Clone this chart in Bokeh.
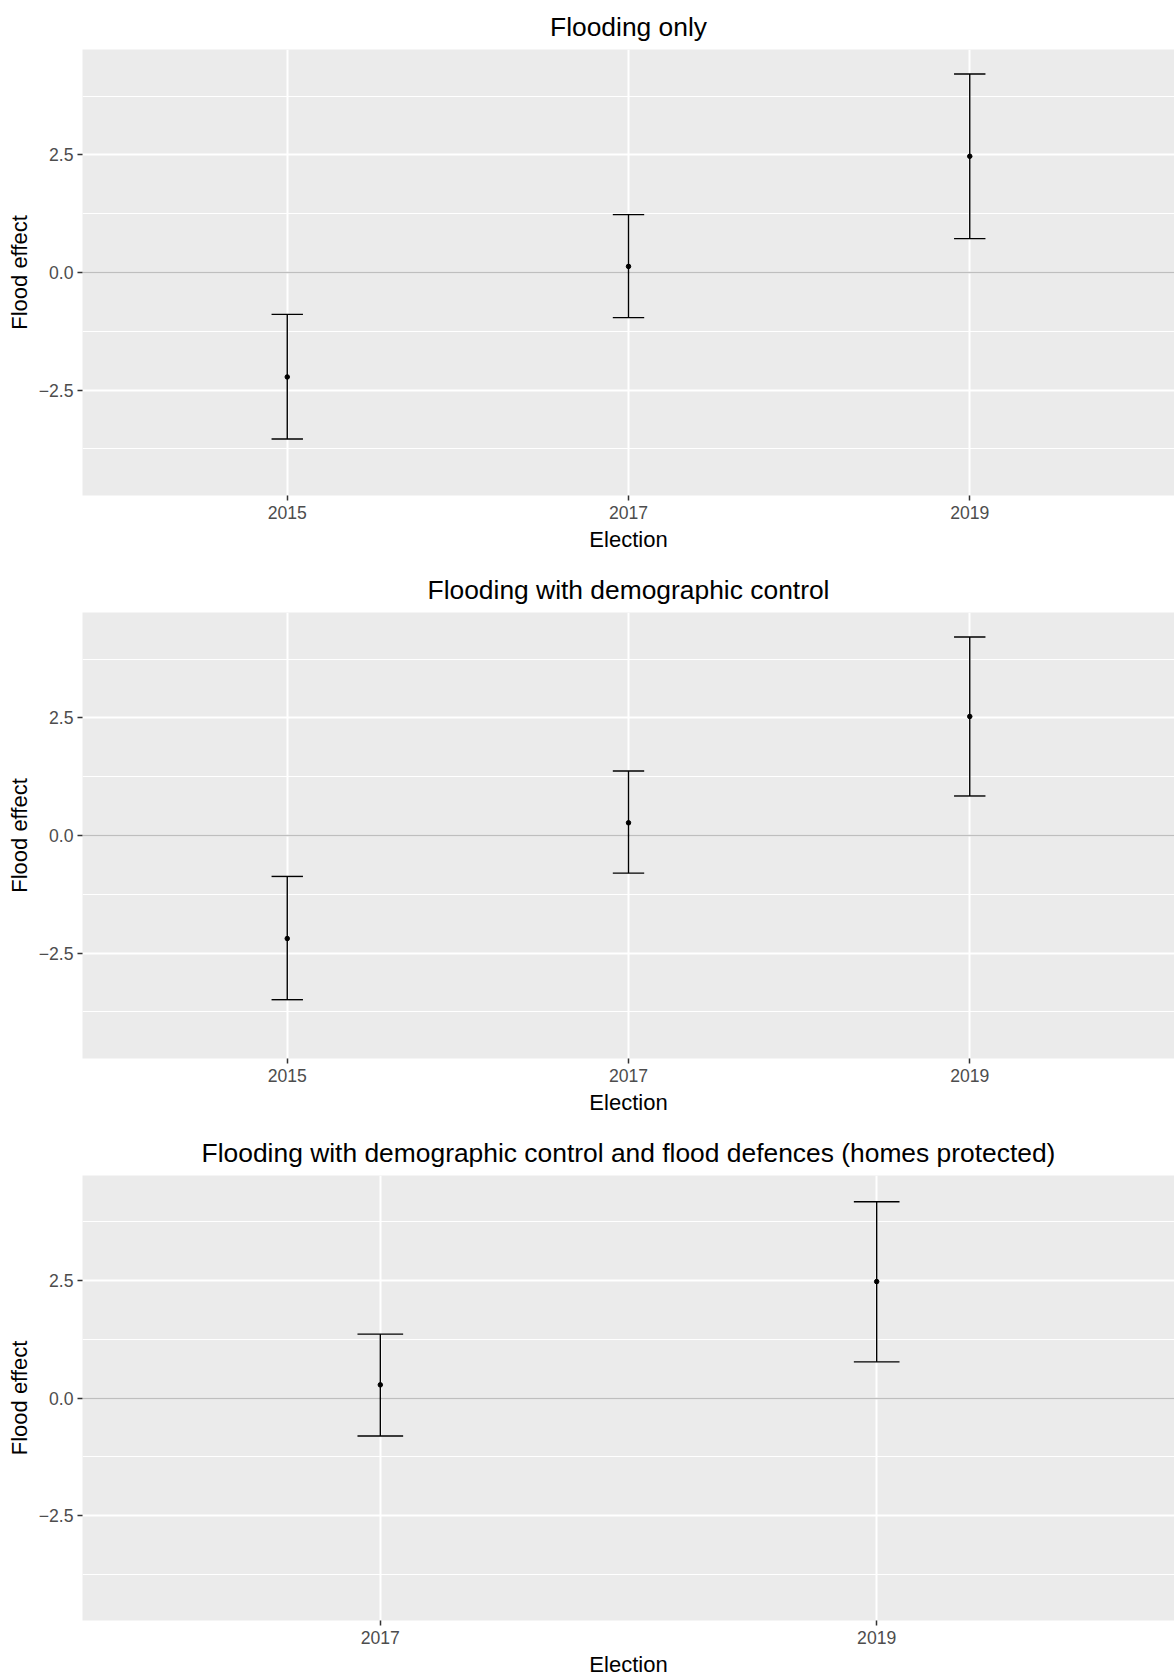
from bokeh.plotting import figure
from bokeh.layouts import column
from bokeh.models import FixedTicker, CustomJSTickFormatter, Range1d, ColumnDataSource
from bokeh.transform import dodge
from bokeh.embed import file_html
from bokeh.resources import INLINE

# ---------------- data ----------------
titles = [
    "Flooding only",
    "Flooding with demographic control",
    "Flooding with demographic control and flood defences (homes protected)",
]

years_1 = ["2015", "2017", "2019"]
est_1 = [-2.22, 0.13, 2.47]
lo_1 = [-3.54, -0.96, 0.72]
hi_1 = [-0.89, 1.23, 4.22]

years_2 = ["2015", "2017", "2019"]
est_2 = [-2.19, 0.27, 2.53]
lo_2 = [-3.49, -0.80, 0.84]
hi_2 = [-0.87, 1.37, 4.22]

years_3 = ["2017", "2019"]
est_3 = [0.28, 2.48]
lo_3 = [-0.81, 0.77]
hi_3 = [1.36, 4.18]

y_ticks = [-2.5, 0.0, 2.5]
y_minor = [-3.75, -1.25, 1.25, 3.75]
y_limits = (-4.74, 4.74)

FONT = "Liberation Sans"


def make_panel(title, years, est, lo, hi, height, bottom):
    n = len(years)
    xs = list(range(1, n + 1))
    p = figure(
        width=1174, height=height,
        x_range=Range1d(0.4, n + 0.6), y_range=Range1d(*y_limits),
        output_backend="svg", toolbar_location=None,
        min_border_left=82, min_border_right=0, min_border_top=49,
        min_border_bottom=bottom,
        background_fill_color="#EBEBEB", border_fill_color="white",
        outline_line_color=None, title=title,
    )
    p.title.text_font = FONT
    p.title.text_font_size = "26.4px"
    p.title.text_font_style = "normal"
    p.title.text_color = "black"
    p.title.align = "center"
    p.title.standoff = 16

    p.xaxis.ticker = FixedTicker(ticks=xs)
    p.xaxis.formatter = CustomJSTickFormatter(
        args=dict(labels=years), code="return labels[Math.round(tick) - 1] || '';")
    p.yaxis.ticker = FixedTicker(ticks=y_ticks, minor_ticks=y_minor)
    p.yaxis.formatter = CustomJSTickFormatter(
        code="return (tick < 0 ? '\u2212' : '') + Math.abs(tick).toFixed(1);")

    for ax in (p.xaxis, p.yaxis):
        ax.axis_line_color = None
        ax.major_tick_out = 5
        ax.major_tick_in = 0
        ax.minor_tick_out = 0
        ax.minor_tick_in = 0
        ax.minor_tick_line_color = None
        ax.major_tick_line_color = "#333333"
        ax.major_tick_line_width = 1.5
        ax.major_label_text_font = FONT
        ax.major_label_text_font_size = "17.6px"
        ax.major_label_text_color = "#4D4D4D"
        ax.axis_label_text_font = FONT
        ax.axis_label_text_font_size = "22px"
        ax.axis_label_text_font_style = "normal"
        ax.axis_label_text_color = "black"
    p.xaxis.axis_label = "Election"
    p.yaxis.axis_label = "Flood effect"
    p.xaxis.major_label_standoff = 5
    p.yaxis.major_label_standoff = 4
    p.xaxis.axis_label_standoff = 5
    p.yaxis.axis_label_standoff = 4

    p.xgrid.grid_line_color = "white"
    p.xgrid.grid_line_width = 2
    p.ygrid.grid_line_color = "white"
    p.ygrid.grid_line_width = 2
    p.ygrid.minor_grid_line_color = "white"
    p.ygrid.minor_grid_line_width = 1

    p.hspan(y=[0.0], line_color="#BEBEBE", line_width=1.3)

    src = ColumnDataSource(dict(x=xs, est=est, lo=lo, hi=hi))
    cap = 0.046
    p.segment(x0="x", y0="lo", x1="x", y1="hi", source=src,
              line_color="black", line_width=1.4)
    p.segment(x0=dodge("x", -cap), y0="lo", x1=dodge("x", cap), y1="lo",
              source=src, line_color="black", line_width=1.4)
    p.segment(x0=dodge("x", -cap), y0="hi", x1=dodge("x", cap), y1="hi",
              source=src, line_color="black", line_width=1.4)
    p.scatter("x", "est", source=src, size=4.5, color="black")
    return p


p1 = make_panel(titles[0], years_1, est_1, lo_1, hi_1, 563, 68)
p2 = make_panel(titles[1], years_2, est_2, lo_2, hi_2, 563, 68)
p3 = make_panel(titles[2], years_3, est_3, lo_3, hi_3, 553, 58)

layout = column(p1, p2, p3)
open("out.html", "w").write(file_html(layout, INLINE, title="Flood effect"))
